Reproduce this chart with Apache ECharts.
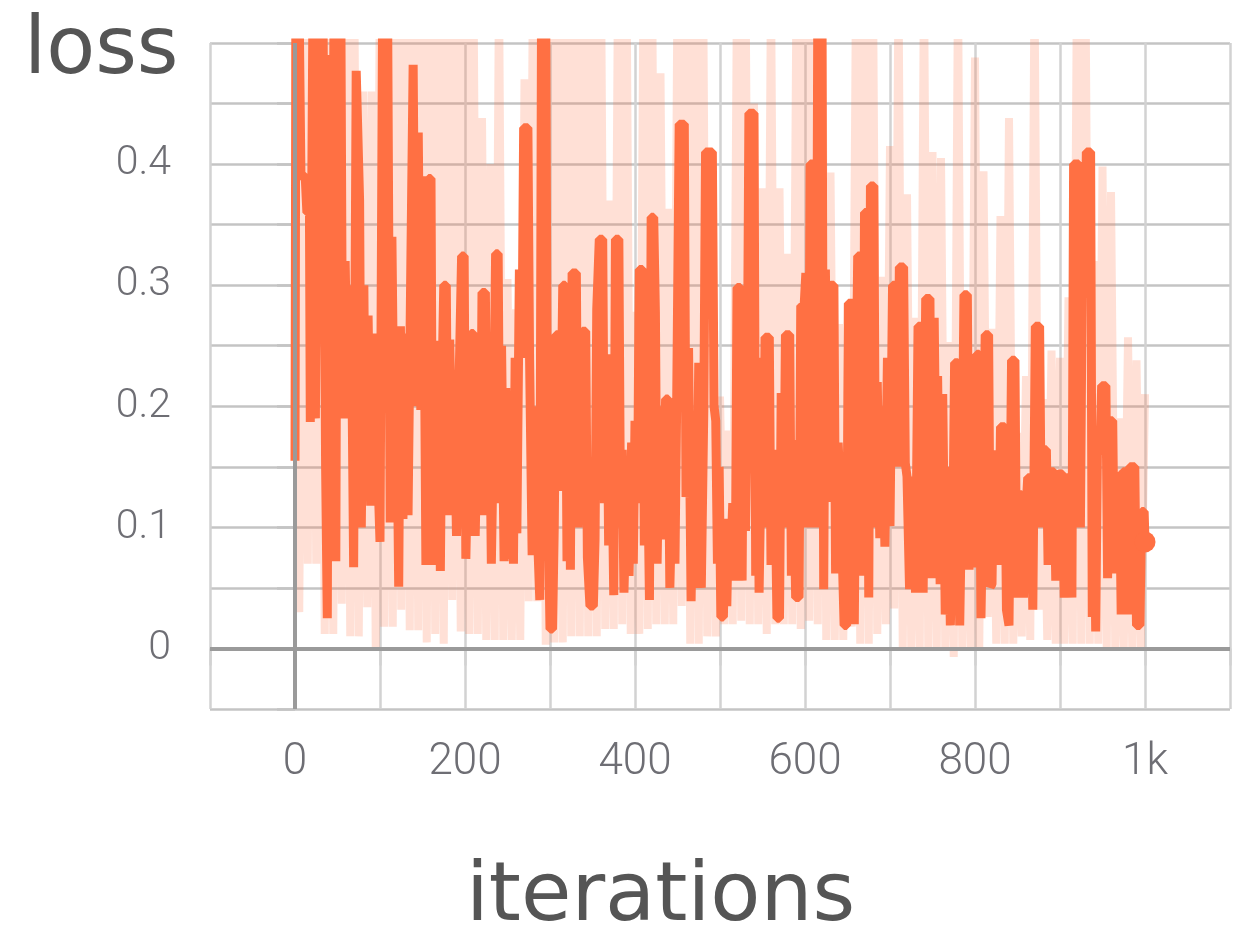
<!DOCTYPE html>
<html>
<head>
<meta charset="utf-8">
<script src="https://cdn.jsdelivr.net/npm/echarts@6/dist/echarts.min.js"></script>
<style>
  html, body { margin: 0; padding: 0; background: #ffffff; }
  #chart { width: 1244px; height: 935px; }
</style>
</head>
<body>
<div id="chart"></div>
<script>
// ---- data ----
const smoothIters = [0,1,5,7,12,14,17,18,21,24,27,30,33,36,38,40,43,46,48,50,54,56,59,62,66,69,72,76,78,81,83,86,89,92,96,100,103,106,109,112,114,117,119,122,124,127,130,133,136,139,142,145,148,151,154,
157,160,162,164,167,169,171,173,175,178,180,182,185,187,190,193,196,199,201,204,207,210,212,215,218,220,224,226,229,231,234,236,239,241,243,246,248,251,254,257,259,261,264,267,269,274,276,279,282,285,288,290,295,297,300,303,305,307,310,312,315,318,320,
322,324,326,331,333,336,338,342,344,347,351,353,355,358,362,364,367,369,372,375,377,381,383,385,387,390,393,396,398,400,403,405,409,411,414,417,419,422,424,426,429,432,436,439,441,444,447,449,452,458,460,463,466,469,472,475,478,481,483,491,493,
495,497,499,501,504,506,508,510,512,515,518,520,524,526,528,530,532,534,540,542,544,546,549,551,553,558,560,562,565,567,570,572,575,577,582,584,586,589,593,595,599,601,604,606,611,613,615,620,622,624,627,630,634,636,639,643,646,649,651,
653,656,658,660,662,666,668,670,673,675,677,681,683,685,688,691,694,697,700,703,707,709,711,716,718,720,723,726,728,730,733,737,739,742,747,749,752,754,756,759,762,765,768,771,774,776,780,782,785,787,791,793,796,799,802,805,807,810,812,816,818,
820,822,826,828,830,835,837,840,843,847,849,851,855,857,859,862,866,868,871,876,878,880,884,886,889,893,895,898,903,905,908,912,914,916,922,924,926,929,931,936,938,940,942,944,947,949,954,956,959,962,964,966,970,972,974,978,980,982,988,990,994,996,999,1000];

const smoothLoss = [0.155,0.52,0.52,0.39,0.39,0.36,0.36,0.187,0.52,0.19,0.52,0.45,0.52,0.15,0.025,0.49,0.3,0.52,0.072,0.52,0.52,0.19,0.32,0.19,0.3,0.067,0.477,0.37,0.1,0.3,0.13,0.275,0.118,0.26,0.18,0.088,0.52,0.2,0.52,0.104,0.34,0.144,0.26,0.051,0.266,0.107,0.26,0.11,0.3,0.482,0.2,0.426,0.197,0.39,0.069,
0.388,0.388,0.069,0.2,0.088,0.254,0.064,0.22,0.30,0.30,0.11,0.255,0.14,0.22,0.093,0.22,0.324,0.324,0.074,0.18,0.26,0.26,0.093,0.2,0.11,0.294,0.294,0.11,0.2,0.07,0.2,0.326,0.326,0.12,0.25,0.072,0.215,0.074,0.18,0.07,0.24,0.095,0.313,0.24,0.43,0.43,0.238,0.077,0.2,0.1,0.04,0.52,0.52,0.15,0.016,0.016,0.1,0.259,0.259,0.13,0.30,0.30,0.072,
0.30,0.065,0.31,0.31,0.1,0.15,0.262,0.262,0.075,0.035,0.035,0.09,0.28,0.338,0.338,0.12,0.243,0.085,0.2,0.044,0.338,0.338,0.1,0.164,0.046,0.13,0.06,0.17,0.07,0.188,0.12,0.313,0.313,0.085,0.2,0.04,0.356,0.356,0.278,0.07,0.2,0.09,0.206,0.206,0.05,0.141,0.07,0.2,0.433,0.433,0.125,0.248,0.039,0.18,0.05,0.236,0.05,0.2,0.41,0.41,0.2,
0.188,0.07,0.15,0.026,0.026,0.1,0.035,0.107,0.06,0.12,0.056,0.298,0.298,0.056,0.27,0.097,0.2,0.442,0.442,0.06,0.24,0.046,0.18,0.1,0.257,0.257,0.069,0.164,0.127,0.025,0.025,0.211,0.1,0.259,0.259,0.06,0.172,0.042,0.042,0.283,0.283,0.31,0.1,0.4,0.4,0.1,0.52,0.52,0.049,0.313,0.121,0.30,0.3,0.062,0.17,0.1,0.019,0.019,0.285,
0.285,0.285,0.02,0.2,0.324,0.324,0.06,0.36,0.36,0.042,0.382,0.382,0.1,0.22,0.091,0.2,0.084,0.24,0.101,0.3,0.3,0.15,0.315,0.315,0.153,0.142,0.049,0.142,0.12,0.046,0.266,0.266,0.046,0.289,0.289,0.058,0.273,0.142,0.225,0.053,0.21,0.028,0.15,0.019,0.1,0.236,0.236,0.019,0.15,0.292,0.292,0.065,0.142,0.067,0.243,0.243,0.025,0.15,0.259,0.259,0.051,
0.053,0.16,0.16,0.069,0.183,0.183,0.032,0.019,0.238,0.238,0.042,0.127,0.127,0.042,0.1,0.141,0.141,0.032,0.266,0.266,0.1,0.164,0.164,0.069,0.146,0.146,0.056,0.144,0.144,0.042,0.141,0.141,0.042,0.40,0.40,0.1,0.292,0.292,0.41,0.41,0.026,0.139,0.014,0.162,0.162,0.217,0.217,0.058,0.188,0.188,0.062,0.142,0.142,0.028,0.146,0.146,0.028,0.15,0.15,0.019,0.019,0.113,0.113,0.088];

const rawIters = [0,5,10,15,20,25,30,35,40,45,50,55,60,65,70,75,80,85,90,95,100,105,110,115,120,125,130,135,140,145,150,155,160,165,170,175,180,185,190,195,200,205,210,215,220,225,230,235,240,245,250,255,260,265,270,275,280,285,290,295,300,305,310,315,320,325,330,335,340,345,350,355,360,365,370,375,380,385,390,395,400,405,410,415,420,425,430,435,440,445,450,455,460,465,470,475,480,485,490,495,500,505,510,515,520,525,530,535,540,545,550,555,560,565,570,575,580,585,590,595,600,605,610,615,620,625,630,635,640,645,650,655,660,665,670,675,680,685,690,695,700,705,710,715,720,725,730,735,740,745,750,755,760,765,770,775,780,785,790,795,800,805,810,815,820,825,830,835,840,845,850,855,860,865,870,875,880,885,890,895,900,905,910,915,920,925,930,935,940,945,950,955,960,965,970,975,980,985,990,995,1000];

const rawLoss = [0.55,0.03,0.55,0.07,0.58,0.07,0.55,0.012,0.56,0.012,0.55,0.037,0.57,0.01,0.52,0.01,0.46,0.034,0.46,0.0,
0.56,0.018,0.55,0.018,0.57,0.032,0.55,0.015,0.56,0.015,0.55,0.005,0.56,0.012,0.55,0.004,0.57,0.04,0.55,0.014,
0.56,0.012,0.55,0.012,0.438,0.007,0.40,0.007,0.55,0.007,0.305,0.007,0.28,0.007,0.47,0.039,0.56,0.039,0.55,0.003,
0.57,0.005,0.55,0.005,0.56,0.01,0.55,0.01,0.57,0.01,0.55,0.01,0.56,0.016,0.37,0.016,0.55,0.02,0.56,0.012,
0.278,0.012,0.55,0.016,0.57,0.02,0.475,0.02,0.363,0.02,0.55,0.035,0.56,0.004,0.55,0.004,0.57,0.01,0.378,0.01,
0.208,0.02,0.18,0.02,0.55,0.023,0.56,0.02,0.45,0.02,0.38,0.012,0.55,0.02,0.38,0.02,0.326,0.02,0.55,0.016,
0.57,0.023,0.55,0.02,0.56,0.007,0.393,0.007,0.268,0.007,0.212,0.018,0.55,0.004,0.56,0.004,0.55,0.012,0.307,0.02,
0.415,0.033,0.55,0.0,0.375,0.0,0.273,0.0,0.56,0.0,0.41,0.0,0.405,0.0,0.253,-0.007,0.55,0.0,0.257,0.0,
0.488,0.0,0.394,0.026,0.264,0.004,0.357,0.004,0.438,0.004,0.178,0.01,0.225,0.007,0.55,0.032,0.206,0.007,0.246,0.004,
0.24,0.004,0.29,0.004,0.56,0.004,0.55,0.004,0.32,0.004,0.398,0.0,0.377,0.0,0.19,0.0,0.257,0.0,0.238,0.0,0.21];

const xTickValues = [0, 200, 400, 600, 800, 1000];
const xTickLabels = ['0', '200', '400', '600', '800', '1k'];
const yTickValues = [0, 0.1, 0.2, 0.3, 0.4];
const yTickLabels = ['0', '0.1', '0.2', '0.3', '0.4'];

const yTitle = 'loss';
const xTitle = 'iterations';

// ---- build ----
const smoothData = smoothIters.map((x, i) => [x, smoothLoss[i]]);
const rawData = rawIters.map((x, i) => [x, rawLoss[i]]);
const lastPoint = [smoothIters[smoothIters.length - 1], smoothLoss[smoothLoss.length - 1]];

function pickLabel(values, labels, v) {
  const i = values.findIndex(t => Math.abs(t - v) < 1e-6);
  return i >= 0 ? labels[i] : '';
}

const chart = echarts.init(document.getElementById('chart'), null, { renderer: 'canvas' });
chart.setOption({
  animation: false,
  backgroundColor: '#ffffff',
  grid: { left: 210, right: 14, top: 43, bottom: 226, containLabel: false },
  xAxis: {
    type: 'value', min: -100, max: 1100, interval: 100,
    axisLine: { show: false },
    axisTick: { show: true, length: 17, lineStyle: { color: '#d2d2d2', width: 2.5 } },
    axisLabel: {
      margin: 32, color: '#6e6e74', fontSize: 44, fontFamily: 'Roboto', fontWeight: 300,
      formatter: v => pickLabel(xTickValues, xTickLabels, v)
    },
    splitLine: { show: true, lineStyle: { color: '#d2d2d2', width: 2.5 } }
  },
  yAxis: {
    type: 'value', min: -0.05, max: 0.5, interval: 0.05,
    axisLine: { show: false },
    axisTick: { show: true, length: 18, lineStyle: { color: '#c4c4c4', width: 2.5 } },
    axisLabel: {
      margin: 39, color: '#6e6e74', fontSize: 41, fontFamily: 'Roboto', fontWeight: 300,
      formatter: v => pickLabel(yTickValues, yTickLabels, v)
    },
    splitLine: { show: true, lineStyle: { color: '#c4c4c4', width: 2.5 } }
  },
  graphic: [
    { type: 'text', left: 24, top: 12, style: { text: yTitle, font: '80px "DejaVu Sans"', fill: '#555555' } },
    { type: 'text', left: 466, top: 858, style: { text: xTitle, font: '82px "DejaVu Sans"', fill: '#555555' } }
  ],
  series: [
    {
      type: 'line', data: [], z: 1, silent: true,
      markLine: {
        silent: true, symbol: 'none', label: { show: false },
        lineStyle: { color: '#9a9a9a', width: 4, type: 'solid' },
        data: [{ xAxis: 0 }, { yAxis: 0 }]
      }
    },
    {
      type: 'line', data: rawData, z: 2, showSymbol: false, silent: true,
      lineStyle: { color: 'rgba(255,112,67,0.22)', width: 8 }
    },
    {
      type: 'line', data: smoothData, z: 3, showSymbol: false, silent: true,
      lineStyle: { color: '#ff7043', width: 9 }
    },
    {
      type: 'scatter', data: [lastPoint], z: 4, symbolSize: 21, silent: true,
      itemStyle: { color: '#ff7043', opacity: 1 }
    }
  ]
});
</script>
</body>
</html>
